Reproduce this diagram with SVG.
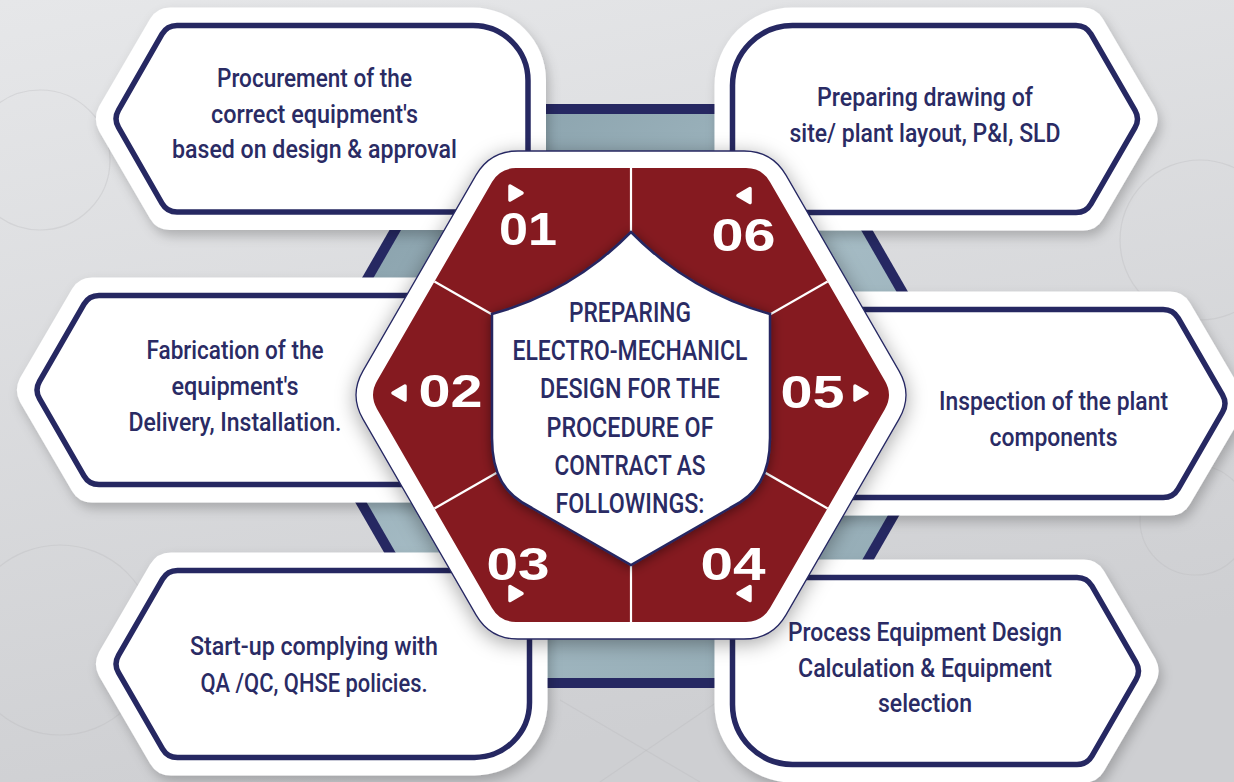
<svg xmlns="http://www.w3.org/2000/svg" width="1234" height="782" viewBox="0 0 1234 782">
<defs>
<linearGradient id="bg" x1="0" y1="0" x2="0.3" y2="1">
<stop offset="0" stop-color="#e6e7e9"/>
<stop offset="1" stop-color="#cecfd2"/>
</linearGradient>
<linearGradient id="steel" x1="0" y1="0" x2="1" y2="1">
<stop offset="0" stop-color="#7f98a3"/>
<stop offset="0.5" stop-color="#a6bcc5"/>
<stop offset="1" stop-color="#8ea6b0"/>
</linearGradient>
<filter id="cardShadow" x="-10%" y="-15%" width="125%" height="135%">
<feDropShadow dx="3" dy="6" stdDeviation="6" flood-color="#000" flood-opacity="0.22"/>
</filter>
<filter id="hexShadow" x="-20%" y="-20%" width="140%" height="140%">
<feDropShadow dx="0" dy="4" stdDeviation="10" flood-color="#000" flood-opacity="0.35"/>
</filter>
<filter id="shieldShadow" x="-20%" y="-20%" width="140%" height="140%">
<feDropShadow dx="0" dy="2" stdDeviation="6" flood-color="#000" flood-opacity="0.45"/>
</filter>
<path id="triR" d="M0,-7 L12,0 L0,7 Z"/>
<path id="triL" d="M12,-7 L0,0 L12,7 Z"/>
</defs>
<style>
.halo{fill:#ffffff;filter:url(#cardShadow);}
.card{fill:#ffffff;stroke:#262862;stroke-width:5.5;stroke-linejoin:round;}
.ct{font-family:Roboto,"Liberation Sans",sans-serif;font-size:25px;font-weight:500;fill:#2a2b64;text-anchor:middle;}
.cen{font-family:Roboto,"Liberation Sans",sans-serif;font-size:28px;font-weight:500;fill:#2a2b64;text-anchor:middle;}
.num{font-family:"Liberation Sans",Arial,sans-serif;font-size:46px;font-weight:bold;fill:#ffffff;text-anchor:middle;}
.tri{fill:#ffffff;stroke:#ffffff;stroke-width:3.5;stroke-linejoin:round;}
.div{stroke:#ffffff;stroke-width:2.2;fill:none;}
.faint{fill:none;stroke:#b9babd;stroke-width:1.2;opacity:0.35;}
</style>

<rect x="0" y="0" width="1234" height="782" fill="url(#bg)"/>
<g id="background-art">
<circle class="faint" cx="40" cy="160" r="70"/>
<circle class="faint" cx="60" cy="640" r="95"/>
<circle class="faint" cx="1195" cy="520" r="55"/>
<circle class="faint" cx="1200" cy="240" r="80"/>
<line class="faint" x1="560" y1="700" x2="700" y2="782"/>
<line class="faint" x1="600" y1="782" x2="720" y2="700"/>
</g>

<g id="frame-hexagon">
<polygon points="294,396 462,104 800,104 968,396 800,688 462,688" fill="#262862"/>
<polygon points="305.5,396 467.8,114 794.2,114 956.5,396 794.2,678 467.8,678" fill="url(#steel)"/>
</g>

<g id="connectors"></g>

<g id="card-01">
<path class="halo" d="M170,7.5 L473,7.5 A73,73 0 0 1 546,80.5 L546,214 Q546,230 530,230 L170,230 Q156.6,230 150,218.5 L99,130.9 Q92.7,118.75 99,106.6 L150,19 Q156.6,7.5 170,7.5 Z"/>
<path class="card" d="M177,25.5 L473,25.5 A55,55 0 0 1 528,80.5 L528,200 Q528,212 516,212 L177,212 Q167,212 162,203.3 L118.5,127.4 Q113.5,118.75 118.5,110.1 L162,34.2 Q167,25.5 177,25.5 Z"/>
<text class="ct" x="314.5" y="87" textLength="195" lengthAdjust="spacingAndGlyphs">Procurement of the</text>
<text class="ct" x="314.5" y="122.5" textLength="207" lengthAdjust="spacingAndGlyphs">correct equipment's</text>
<text class="ct" x="314.5" y="158" textLength="285" lengthAdjust="spacingAndGlyphs">based on design &amp; approval</text>
</g>

<g id="card-06">
<path class="halo" d="M792.5,7.5 L1083,7.5 Q1096.4,7.5 1103,19 L1154.5,107 Q1160.8,119 1154.5,131 L1103,219 Q1096.4,230.5 1083,230.5 L730,230.5 Q714.5,230.5 714.5,215 L714.5,85.5 A78,78 0 0 1 792.5,7.5 Z"/>
<path class="card" d="M792.5,25.5 L1076,25.5 Q1086,25.5 1091,34.2 L1135,110.3 Q1140,119 1135,127.7 L1091,203.8 Q1086,212.5 1076,212.5 L744.5,212.5 Q732.5,212.5 732.5,200.5 L732.5,85.5 A60,60 0 0 1 792.5,25.5 Z"/>
<text class="ct" x="925" y="106" textLength="216" lengthAdjust="spacingAndGlyphs">Preparing drawing of</text>
<text class="ct" x="925" y="142" textLength="271" lengthAdjust="spacingAndGlyphs">site/ plant layout, P&amp;I, SLD</text>
</g>

<g id="card-02">
<path class="halo" d="M92,277.5 L488,277.5 Q498,277.5 498,287.5 L498,492.5 Q498,502.5 488,502.5 L92,502.5 Q78.6,502.5 72,491 L20,402 Q13.7,390 20,378 L72,289 Q78.6,277.5 92,277.5 Z"/>
<path class="card" d="M99,295.5 L470,295.5 Q480,295.5 480,305.5 L480,474.5 Q480,484.5 470,484.5 L99,484.5 Q89,484.5 84,475.8 L39.5,398.7 Q34.5,390 39.5,381.3 L84,304.2 Q89,295.5 99,295.5 Z"/>
<text class="ct" x="235" y="359" textLength="177" lengthAdjust="spacingAndGlyphs">Fabrication of the</text>
<text class="ct" x="235" y="395" textLength="127" lengthAdjust="spacingAndGlyphs">equipment's</text>
<text class="ct" x="235" y="431" textLength="213" lengthAdjust="spacingAndGlyphs">Delivery, Installation.</text>
</g>

<g id="card-05">
<path class="halo" d="M782,291.5 L1170,291.5 Q1183.6,291.5 1190,303 L1242,391.5 Q1248.3,403.5 1242,415.5 L1190,504 Q1183.6,515.5 1170,515.5 L782,515.5 Q772,515.5 772,505.5 L772,301.5 Q772,291.5 782,291.5 Z"/>
<path class="card" d="M800,309.5 L1163.2,309.5 Q1173.2,309.5 1178.2,318.2 L1222.5,394.8 Q1227.5,403.5 1222.5,412.2 L1178.2,488.8 Q1173.2,497.5 1163.2,497.5 L800,497.5 Q790,497.5 790,487.5 L790,319.5 Q790,309.5 800,309.5 Z"/>
<text class="ct" x="1053.5" y="410" textLength="229" lengthAdjust="spacingAndGlyphs">Inspection of the plant</text>
<text class="ct" x="1053.5" y="446" textLength="128" lengthAdjust="spacingAndGlyphs">components</text>
</g>

<g id="card-03">
<path class="halo" d="M171,552.5 L532,552.5 Q547.5,552.5 547.5,568 L547.5,702.5 A73,73 0 0 1 474.5,775.5 L171,775.5 Q157,775.5 150,763.4 L99,676 Q92.7,664 99,652 L150,564.6 Q157,552.5 171,552.5 Z"/>
<path class="card" d="M177.5,570.5 L517.5,570.5 Q529.5,570.5 529.5,582.5 L529.5,702.5 A55,55 0 0 1 474.5,757.5 L177.5,757.5 Q167.5,757.5 162.5,748.8 L118.5,672.7 Q113.5,664 118.5,655.3 L162.5,579.2 Q167.5,570.5 177.5,570.5 Z"/>
<text class="ct" x="314" y="655" textLength="248" lengthAdjust="spacingAndGlyphs">Start-up complying with</text>
<text class="ct" x="314" y="692" textLength="227" lengthAdjust="spacingAndGlyphs">QA /QC, QHSE policies.</text>
</g>

<g id="card-04">
<path class="halo" d="M730,559.5 L1084,559.5 Q1097.4,559.5 1104,571 L1155.5,659 Q1161.8,671 1155.5,683 L1104,771 Q1097.4,782.5 1084,782.5 L792.5,782.5 A78,78 0 0 1 714.5,704.5 L714.5,575 Q714.5,559.5 730,559.5 Z"/>
<path class="card" d="M744.5,577.5 L1077,577.5 Q1087,577.5 1092,586.2 L1136,662.3 Q1141,671 1136,679.7 L1092,755.8 Q1087,764.5 1077,764.5 L792.5,764.5 A60,60 0 0 1 732.5,704.5 L732.5,589.5 Q732.5,577.5 744.5,577.5 Z"/>
<text class="ct" x="925" y="641" textLength="274" lengthAdjust="spacingAndGlyphs">Process Equipment Design</text>
<text class="ct" x="925" y="677" textLength="254" lengthAdjust="spacingAndGlyphs">Calculation &amp; Equipment</text>
<text class="ct" x="925" y="712" textLength="94" lengthAdjust="spacingAndGlyphs">selection</text>
</g>

<g id="center-hub">
<path d="M363,370.8 L476,175.2 Q490,151 518,151 L744,151 Q772,151 786,175.2 L899,370.8 Q913,395 899,419.2 L786,614.8 Q772,639 744,639 L518,639 Q490,639 476,614.8 L363,419.2 Q349,395 363,370.8 Z" fill="#ffffff" stroke="#262862" stroke-width="1.3" filter="url(#hexShadow)"/>
<path d="M377,381.1 L492,182 Q500,168.1 516,168.1 L746,168.1 Q762,168.1 770,182 L885,381.1 Q893,395 885,408.9 L770,608 Q762,621.9 746,621.9 L516,621.9 Q500,621.9 492,608 L377,408.9 Q369,395 377,381.1 Z" fill="#851a20"/>
<line class="div" x1="631" y1="168" x2="631" y2="240"/>
<line class="div" x1="631" y1="555" x2="631" y2="622"/>
<line class="div" x1="434.4" y1="281.5" x2="500" y2="319"/>
<line class="div" x1="827.6" y1="281.5" x2="762" y2="319"/>
<line class="div" x1="434.4" y1="508.5" x2="505" y2="468"/>
<line class="div" x1="827.6" y1="508.5" x2="757" y2="468"/>
<path d="M631,232 Q572,292 492,314 L492,438 C492,475 505,495 532,508 L631,565 L730,508 C757,495 770,475 770,438 L770,314 Q690,292 631,232 Z" fill="#ffffff" stroke="#262862" stroke-width="2.5" filter="url(#shieldShadow)"/>
<text class="num" x="528" y="245" textLength="58" lengthAdjust="spacingAndGlyphs">01</text>
<text class="num" x="743.5" y="251" textLength="64" lengthAdjust="spacingAndGlyphs">06</text>
<text class="num" x="450.5" y="407" textLength="64" lengthAdjust="spacingAndGlyphs">02</text>
<text class="num" x="812.5" y="408" textLength="64" lengthAdjust="spacingAndGlyphs">05</text>
<text class="num" x="518" y="580" textLength="63" lengthAdjust="spacingAndGlyphs">03</text>
<text class="num" x="733" y="580" textLength="65" lengthAdjust="spacingAndGlyphs">04</text>
<use href="#triR" class="tri" x="510" y="193"/>
<use href="#triL" class="tri" x="738" y="195.5"/>
<use href="#triL" class="tri" x="393" y="393"/>
<use href="#triR" class="tri" x="855" y="393"/>
<use href="#triR" class="tri" x="510" y="593.5"/>
<use href="#triL" class="tri" x="738" y="593.5"/>
<text class="cen" x="630" y="322" textLength="122" lengthAdjust="spacingAndGlyphs">PREPARING</text>
<text class="cen" x="630" y="360" textLength="235" lengthAdjust="spacingAndGlyphs">ELECTRO-MECHANICL</text>
<text class="cen" x="630" y="398" textLength="180" lengthAdjust="spacingAndGlyphs">DESIGN FOR THE</text>
<text class="cen" x="630" y="437" textLength="167" lengthAdjust="spacingAndGlyphs">PROCEDURE OF</text>
<text class="cen" x="630" y="475" textLength="151" lengthAdjust="spacingAndGlyphs">CONTRACT AS</text>
<text class="cen" x="630" y="513" textLength="149" lengthAdjust="spacingAndGlyphs">FOLLOWINGS:</text>
</g>
</svg>
